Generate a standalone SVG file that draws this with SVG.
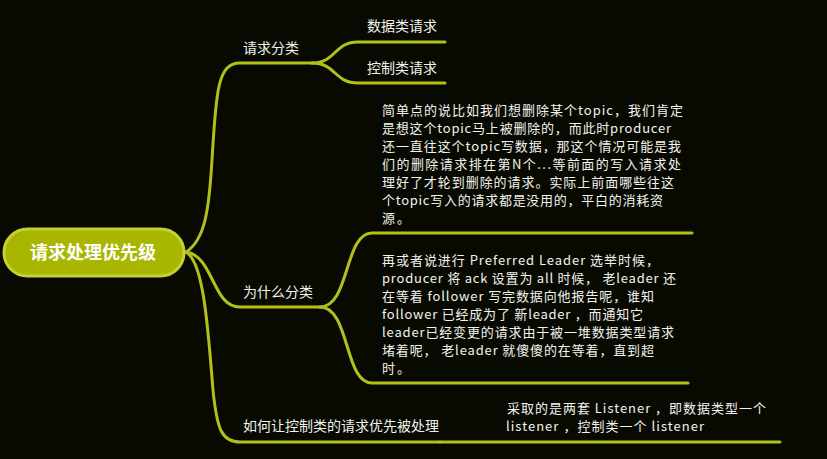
<svg xmlns="http://www.w3.org/2000/svg" width="827" height="459" viewBox="0 0 827 459">
<style>
.bg{fill:#080a02}
.ln{fill:none;stroke:#b3c01c;stroke-width:3;stroke-linecap:round}
.t{font-family:"Noto Sans CJK SC","Noto Sans",sans-serif;font-size:14px;fill:#f2f2ee}
.p{font-family:"Noto Sans CJK SC","Noto Sans",sans-serif;font-size:13px;fill:#f2f2ee}
.root{font-family:"Noto Sans CJK SC","Noto Sans",sans-serif;font-size:18px;font-weight:bold;fill:#ffffff}
</style>
<rect class="bg" x="0" y="0" width="827" height="459"/>
<g id="connectors">
<path class="ln" d="M186,252 C205,240 209,210 212,160 C216,90 218,63 240,63 H312"/>
<path class="ln" d="M312,63 C336,63 334,42 358,42 H445"/>
<path class="ln" d="M312,63 C336,63 334,83 358,83 H445"/>
<path class="ln" d="M186,252 C214,256 212,307 240,307 H320"/>
<path class="ln" d="M320,307 C350,307 344,233 372,233 H692"/>
<path class="ln" d="M320,307 C350,307 344,383 372,383 H688"/>
<path class="ln" d="M186,252 C204,262 208,330 213,390 C217,430 222,442 240,442 H440"/>
<path class="ln" d="M440,442 H780"/>
</g>
<g id="root">
<rect x="4" y="229" width="180" height="47" rx="23.5" fill="#a8b600" stroke="#c4d034" stroke-width="3"/>
<text class="root" x="93" y="259" text-anchor="middle">请求处理优先级</text>
</g>
<g id="n-classify">
<text class="t" x="243" y="53">请求分类</text>
</g>
<g id="n-data">
<text class="t" x="367" y="31">数据类请求</text>
</g>
<g id="n-control">
<text class="t" x="367" y="73">控制类请求</text>
</g>
<g id="n-why">
<text class="t" x="243" y="297">为什么分类</text>
</g>
<g id="n-why1">
<text class="p" x="382" y="115" textLength="301" lengthAdjust="spacing">简单点的说比如我们想删除某个topic，我们肯定</text>
<text class="p" x="382" y="133" textLength="289" lengthAdjust="spacing">是想这个topic马上被删除的，而此时producer</text>
<text class="p" x="382" y="151" textLength="299" lengthAdjust="spacing">还一直往这个topic写数据，那这个情况可能是我</text>
<text class="p" x="382" y="169" textLength="299" lengthAdjust="spacing">们的删除请求排在第N个...等前面的写入请求处</text>
<text class="p" x="382" y="187" textLength="292" lengthAdjust="spacing">理好了才轮到删除的请求。实际上前面哪些往这</text>
<text class="p" x="382" y="205" textLength="281" lengthAdjust="spacing">个topic写入的请求都是没用的，平白的消耗资</text>
<text class="p" x="382" y="223" textLength="28" lengthAdjust="spacing">源。</text>
</g>
<g id="n-why2">
<text class="p" x="382" y="265" textLength="277" lengthAdjust="spacing">再或者说进行 Preferred Leader 选举时候，</text>
<text class="p" x="382" y="283" textLength="294" lengthAdjust="spacing">producer 将 ack 设置为 all 时候， 老leader 还</text>
<text class="p" x="382" y="301" textLength="272" lengthAdjust="spacing">在等着 follower 写完数据向他报告呢，谁知</text>
<text class="p" x="382" y="319" textLength="261" lengthAdjust="spacing">follower 已经成为了 新leader ，而通知它</text>
<text class="p" x="382" y="337" textLength="292" lengthAdjust="spacing">leader已经变更的请求由于被一堆数据类型请求</text>
<text class="p" x="382" y="355" textLength="272" lengthAdjust="spacing">堵着呢， 老leader 就傻傻的在等着，直到超</text>
<text class="p" x="382" y="373" textLength="28" lengthAdjust="spacing">时。</text>
</g>
<g id="n-how">
<text class="t" x="243" y="431">如何让控制类的请求优先被处理</text>
</g>
<g id="n-how1">
<text class="p" x="507" y="413" textLength="259" lengthAdjust="spacing">采取的是两套 Listener ，即数据类型一个</text>
<text class="p" x="506" y="431" textLength="198" lengthAdjust="spacing">listener ，控制类一个 listener</text>
</g>
</svg>
